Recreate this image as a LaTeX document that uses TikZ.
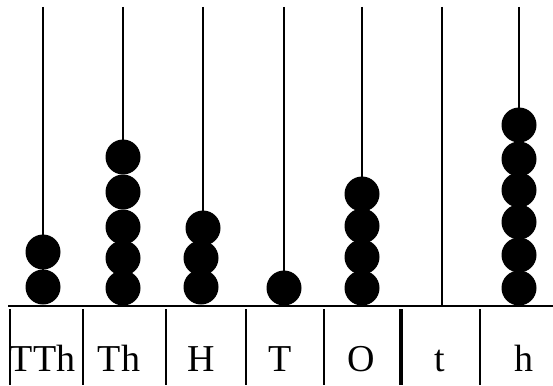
\documentclass[tikz,border=0pt]{standalone}
\usepackage{fontspec}
\setmainfont{Liberation Serif}
\begin{document}
\begin{tikzpicture}[x=1pt,y=-1pt]
 \tikzset{rod/.style={black,line width=1.6pt},
  bead/.style={black},
  place/.style={anchor=base,inner sep=0pt,font=\fontsize{38}{44}\selectfont}}
 \useasboundingbox (0,0) rectangle (553,385);
 % rods
 \draw [rod] (43,7) -- (43,270);
 \draw [rod] (123,7) -- (123,140);
 \draw [rod] (203,7) -- (203,211);
 \draw [rod] (284,7) -- (284,271);
 \draw [rod] (362,7) -- (362,177);
 \draw [rod] (442,7) -- (442,306);
 \draw [rod] (519,7) -- (519,108);
 % base line and place boxes
 \draw [black,line width=1.6pt] (8,306) -- (553,306);
 \draw [black,line width=1.4pt] (10,309) -- (10,385);
 \draw [black,line width=1.4pt] (83,309) -- (83,385);
 \draw [black,line width=1.4pt] (166,309) -- (166,385);
 \draw [black,line width=1.4pt] (246,309) -- (246,385);
 \draw [black,line width=1.4pt] (324,309) -- (324,385);
 \draw [black,line width=4pt] (401,309) -- (401,385);
 \draw [black,line width=1.4pt] (480,309) -- (480,385);
 % beads
 \fill [bead] (43,252) circle (17.5);
 \fill [bead] (43,287) circle (17.5);
 \fill [bead] (123,157) circle (17.5);
 \fill [bead] (123,192) circle (17.5);
 \fill [bead] (123,227) circle (17.5);
 \fill [bead] (123,258) circle (17.5);
 \fill [bead] (123,288) circle (17.5);
 \fill [bead] (203,228) circle (17.5);
 \fill [bead] (201,258) circle (17.5);
 \fill [bead] (201,287) circle (17.5);
 \fill [bead] (284,288) circle (17.5);
 \fill [bead] (362,194) circle (17.5);
 \fill [bead] (362,226) circle (17.5);
 \fill [bead] (362,257) circle (17.5);
 \fill [bead] (362,288) circle (17.5);
 \fill [bead] (519,125) circle (17.5);
 \fill [bead] (519,159) circle (17.5);
 \fill [bead] (519,190) circle (17.5);
 \fill [bead] (519,222) circle (17.5);
 \fill [bead] (519,255) circle (17.5);
 \fill [bead] (519,288) circle (17.5);
 % place names
 \node [place] (tth) at (42.5,371.5) {TTh};
 \node [place] (th) at (119,371.5) {Th};
 \node [place] (hu) at (201,371.5) {H};
 \node [place] (te) at (280,371.5) {T};
 \node [place] (on) at (361,371.5) {O};
 \node [place] (tn) at (440,371.5) {t};
 \node [place] (hn) at (524,371.5) {h};
\end{tikzpicture}
\end{document}
